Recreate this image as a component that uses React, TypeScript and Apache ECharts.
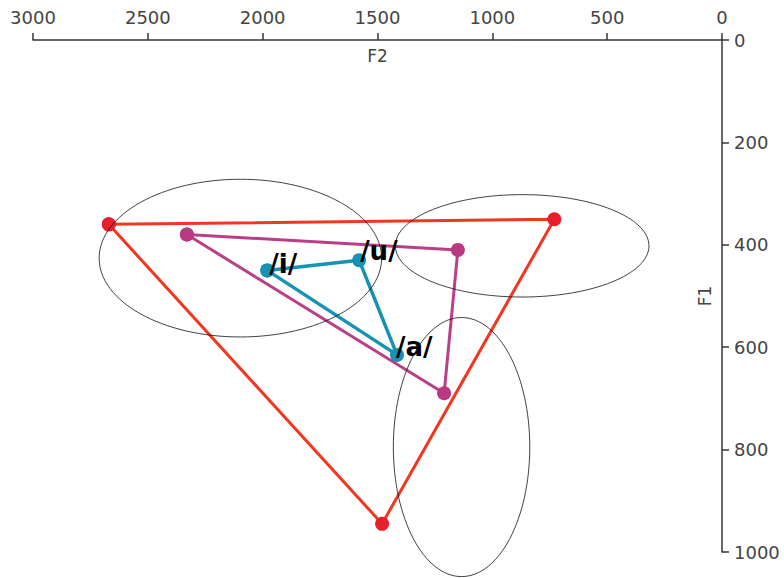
import React, { useEffect, useRef } from "react";
import * as echarts from "echarts";

// Vowel formant points: [F2, F1]
const outerTriangle: number[][] = [
  [2670, 360],
  [730, 350],
  [1480, 945],
];
const middleTriangle: number[][] = [
  [2330, 380],
  [1150, 410],
  [1210, 690],
];
const innerTriangle: number[][] = [
  [1980, 450],
  [1580, 430],
  [1415, 615],
];
const innerLabels: string[] = ["/i/", "/u/", "/a/"];
const labelOffsets: number[][] = [
  [-5, -6],
  [-6, -9],
  [-8, -8],
];
// Ellipses: [centre F2, centre F1, semi-axis F2, semi-axis F1]
const ellipses: number[][] = [
  [2097, 426, 615, 154],
  [870, 402, 552, 100],
  [1134, 795, 297, 253],
];
const xTicks = { min: 0, max: 3000, interval: 500 };
const yTicks = { min: 0, max: 1000, interval: 200 };

const FONT = "DejaVu Sans";
const AXIS_COLOR = "#3b3434";

const closed = (pts: number[][]) => [...pts, pts[0]];

export default function App() {
  const ref = useRef<HTMLDivElement>(null);
  useEffect(() => {
    if (!ref.current) return;
    const chart = echarts.init(ref.current, null, { renderer: "svg" });
    const lineSeries = (pts: number[][], color: string, markColor: string, width: number) => ({
      type: "line",
      data: closed(pts),
      symbol: "circle",
      symbolSize: 14,
      lineStyle: { color, width },
      itemStyle: { color: markColor },
      z: 2,
    });
    chart.setOption({
      animation: false,
      backgroundColor: "#ffffff",
      grid: { left: 33, right: 62, top: 40, bottom: 26, containLabel: false },
      xAxis: {
        type: "value",
        position: "top",
        inverse: true,
        min: xTicks.min,
        max: xTicks.max,
        interval: xTicks.interval,
        name: "F2",
        nameLocation: "middle",
        nameGap: -24,
        nameTextStyle: { fontFamily: FONT, fontSize: 17, color: "#444" },
        axisLine: { show: true, lineStyle: { color: AXIS_COLOR, width: 1.5 } },
        axisTick: { show: true, length: 7, lineStyle: { color: AXIS_COLOR, width: 1.5 } },
        axisLabel: {
          fontFamily: FONT,
          fontSize: 18,
          color: "#444",
          margin: 14,
          formatter: (v: number) => String(v),
        },
        splitLine: { show: false },
      },
      yAxis: {
        type: "value",
        position: "right",
        inverse: true,
        min: yTicks.min,
        max: yTicks.max,
        interval: yTicks.interval,
        name: "F1",
        nameLocation: "middle",
        nameRotate: 90,
        nameGap: -26,
        nameTextStyle: { fontFamily: FONT, fontSize: 17, color: "#444" },
        axisLine: { show: true, lineStyle: { color: AXIS_COLOR, width: 1.5 } },
        axisTick: { show: true, length: 7, lineStyle: { color: AXIS_COLOR, width: 1.5 } },
        axisLabel: {
          fontFamily: FONT,
          fontSize: 18,
          color: "#444",
          margin: 12,
          formatter: (v: number) => String(v),
        },
        splitLine: { show: false },
      },
      series: [
        lineSeries(outerTriangle, "#f2361f", "#e81e2c", 3),
        lineSeries(middleTriangle, "#bb3f86", "#b93a82", 3),
        {
          ...lineSeries(innerTriangle, "#1592b4", "#1592b4", 3.5),
          data: closed(innerTriangle).map((p, i) =>
            i < innerLabels.length
              ? {
                  value: p,
                  label: {
                    show: true,
                    formatter: innerLabels[i],
                    position: "right",
                    distance: 0,
                    offset: labelOffsets[i],
                    fontFamily: FONT,
                    fontWeight: "bold",
                    fontSize: 26,
                    color: "#000",
                  },
                }
              : { value: p }
          ),
        },
        {
          type: "custom",
          clip: false,
          z: 5,
          data: ellipses,
          renderItem: (params: any, api: any) => {
            const c = api.coord([api.value(0), api.value(1)]);
            const s = api.size([api.value(2), api.value(3)]);
            return {
              type: "ellipse",
              shape: { cx: c[0], cy: c[1], rx: Math.abs(s[0]), ry: Math.abs(s[1]) },
              style: { fill: "none", stroke: "#111", lineWidth: 0.8 },
            };
          },
        },
      ],
    });
    return () => chart.dispose();
  }, []);
  return (
    <div
      ref={ref}
      style={{ position: "fixed", left: 0, top: 0, width: 784, height: 578 }}
    />
  );
}
